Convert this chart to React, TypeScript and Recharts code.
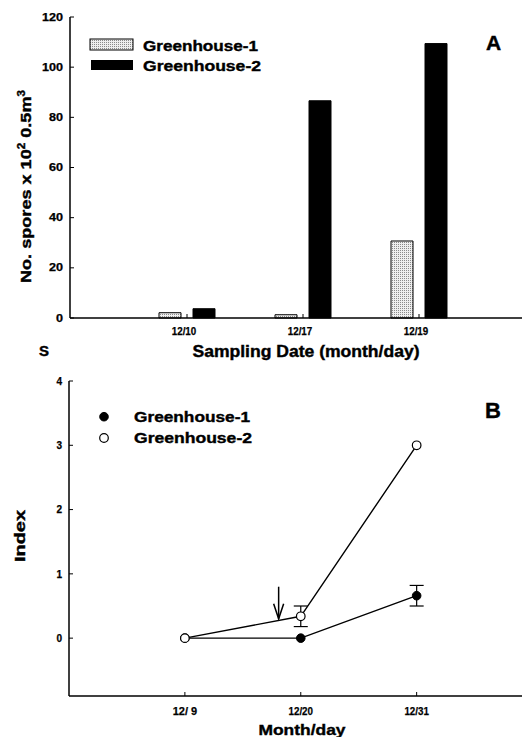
import React from 'react';
import { ComposedChart, Bar, XAxis, YAxis, Line, ErrorBar, ReferenceLine } from 'recharts';

const FONT = '"Liberation Sans", Arial, Helvetica, sans-serif';

// ---------- Panel A data ----------
const seriesNames = ['Greenhouse-1', 'Greenhouse-2'];
const sampleDates = ['12/10', '12/17', '12/19'];
const sporesGH1 = [2.1, 1.3, 30.7];
const sporesGH2 = [3.7, 86.6, 109.4];
const sporeTicks = [0, 20, 40, 60, 80, 100, 120];

// ---------- Panel B data ----------
const indexDays = [9, 20, 31];
const indexDayLabels = ['12/ 9', '12/20', '12/31'];
const indexGH1 = [0, 0, 0.66];
const indexGH1Err = [0, 0, 0.16];
const indexGH2 = [0, 0.34, 3.0];
const indexGH2Err = [0, 0.16, 0];
const indexTicks = [0, 1, 2, 3, 4];
const arrowDay = 17.9;
const arrowTop = 0.8;
const arrowTip = 0.3;

const barData = sampleDates.map((d, i) => ({ date: d, gh1: sporesGH1[i], gh2: sporesGH2[i] }));
const lineData = indexDays.map((d, i) => ({
  day: d,
  gh1: indexGH1[i],
  gh1e: indexGH1Err[i],
  gh2: indexGH2[i],
  gh2e: indexGH2Err[i],
}));

const dayLabel = (v: number) => {
  const i = indexDays.indexOf(v);
  return i >= 0 ? indexDayLabels[i] : String(v);
};

const makeTick =
  (opts: { fontSize: number; charW: number; anchor: 'end' | 'middle'; dx?: number; fmt?: (v: any) => string }) =>
  (props: any) => {
    const { x, y, payload } = props;
    const label = opts.fmt ? opts.fmt(payload.value) : String(payload.value);
    return (
      <text
        x={x + (opts.dx || 0)}
        y={y}
        textAnchor={opts.anchor}
        dy={opts.anchor === 'end' ? '0.36em' : '0.71em'}
        fontSize={opts.fontSize}
        fontWeight="bold"
        fontFamily={FONT}
        fill="#000"
        stroke="#000"
        strokeWidth={0.25}
        textLength={label.length * opts.charW}
        lengthAdjust="spacingAndGlyphs"
      >
        {label}
      </text>
    );
  };

const ArrowShape = (p: any) => {
  const { x1, y1, x2, y2 } = p;
  if ([x1, y1, x2, y2].some((v) => typeof v !== 'number' || isNaN(v))) return <g />;
  return (
    <g>
      <line x1={x1} y1={y1} x2={x2} y2={y2} stroke="#000" strokeWidth={1.5} />
      <path
        d={`M${x2 - 5},${y2 - 15} L${x2},${y2} L${x2 + 5},${y2 - 15}`}
        fill="none"
        stroke="#000"
        strokeWidth={1.5}
      />
    </g>
  );
};

const axisLine = { stroke: '#000', strokeWidth: 1.5 };
const tickLine = { stroke: '#000', strokeWidth: 1 };

const txt = (extra: any = {}) => ({
  fontFamily: FONT,
  fontWeight: 'bold' as const,
  fill: '#000',
  stroke: '#000',
  strokeWidth: 0.4,
  lengthAdjust: 'spacingAndGlyphs',
  ...extra,
});

export default function App() {
  return (
    <div style={{ position: 'absolute', left: 0, top: 0, width: 522, height: 737, background: '#fff', overflow: 'hidden' }}>
      {/* Panel A */}
      <div style={{ position: 'absolute', left: 0, top: 0 }}>
        <ComposedChart
          width={522}
          height={370}
          data={barData}
          margin={{ top: 17, right: 0, bottom: 0, left: 0 }}
          barSize={22}
          barGap={12}
        >
          <defs>
            <pattern id="stippleA" width="2" height="2" patternUnits="userSpaceOnUse">
              <rect width="2" height="2" fill="#eeeeee" />
              <rect width="1" height="1" fill="#8a8a8a" />
            </pattern>
          </defs>
          <XAxis
            dataKey="date"
            type="category"
            padding={{ left: 59, right: 45 }}
            height={52}
            axisLine={axisLine}
            tickLine={tickLine}
            tickSize={-4}
            tickMargin={13}
            tick={makeTick({ fontSize: 11.5, charW: 4.9, anchor: 'middle', dx: -3 })}
          />
          <XAxis xAxisId="top" orientation="top" dataKey="date" height={0} axisLine={axisLine} tick={false} tickLine={false} />
          <YAxis
            type="number"
            domain={[0, 120]}
            ticks={sporeTicks}
            width={70}
            axisLine={axisLine}
            tickLine={tickLine}
            tickSize={-4}
            tickMargin={11}
            interval={0}
            tick={makeTick({ fontSize: 10, charW: 7, anchor: 'end' })}
          />
          <Bar dataKey="gh1" name={seriesNames[0]} fill="url(#stippleA)" stroke="#000" strokeWidth={1} isAnimationActive={false} />
          <Bar dataKey="gh2" name={seriesNames[1]} fill="#000" stroke="#000" strokeWidth={1} isAnimationActive={false} />
        </ComposedChart>
      </div>

      {/* Panel B */}
      <div style={{ position: 'absolute', left: 0, top: 370 }}>
        <ComposedChart width={522} height={367} data={lineData} margin={{ top: 11, right: 0, bottom: 0, left: 0 }}>
          <XAxis
            dataKey="day"
            type="number"
            domain={[-2, 41]}
            ticks={indexDays}
            height={41}
            axisLine={axisLine}
            tickLine={tickLine}
            tickSize={-4}
            tickMargin={15}
            interval={0}
            tick={makeTick({ fontSize: 11.5, charW: 4.9, anchor: 'middle', fmt: dayLabel })}
          />
          <XAxis xAxisId="top" orientation="top" dataKey="day" type="number" domain={[-2, 41]} height={0} axisLine={axisLine} tick={false} tickLine={false} />
          <YAxis
            type="number"
            domain={[-0.9, 4]}
            ticks={indexTicks}
            width={69}
            axisLine={axisLine}
            tickLine={tickLine}
            tickSize={-4}
            tickMargin={11}
            interval={0}
            allowDataOverflow
            tick={makeTick({ fontSize: 10.5, charW: 5.6, anchor: 'end' })}
          />
          <ReferenceLine
            segment={[
              { x: arrowDay, y: arrowTop },
              { x: arrowDay, y: arrowTip },
            ]}
            shape={ArrowShape}
            ifOverflow="visible"
          />
          <Line
            dataKey="gh1"
            name={seriesNames[0]}
            type="linear"
            stroke="#000"
            strokeWidth={1.4}
            dot={{ r: 4.3, fill: '#000', stroke: '#000', strokeWidth: 1 }}
            isAnimationActive={false}
          >
            <ErrorBar dataKey="gh1e" width={7} stroke="#000" strokeWidth={1.2} direction="y" />
          </Line>
          <Line
            dataKey="gh2"
            name={seriesNames[1]}
            type="linear"
            stroke="#000"
            strokeWidth={1.4}
            dot={{ r: 4.3, fill: '#fff', stroke: '#000', strokeWidth: 1.2 }}
            isAnimationActive={false}
          >
            <ErrorBar dataKey="gh2e" width={7} stroke="#000" strokeWidth={1.2} direction="y" />
          </Line>
        </ComposedChart>
      </div>

      {/* Annotations: legends, titles, panel letters */}
      <svg width={522} height={737} style={{ position: 'absolute', left: 0, top: 0, pointerEvents: 'none' }}>
        <defs>
          <pattern id="stippleL" width="2" height="2" patternUnits="userSpaceOnUse">
            <rect width="2" height="2" fill="#eeeeee" />
            <rect width="1" height="1" fill="#8a8a8a" />
          </pattern>
        </defs>
        {/* Panel A legend */}
        <rect x={90} y={39} width={43} height={11} fill="url(#stippleL)" stroke="#000" strokeWidth={1} />
        <rect x={91} y={60} width={42} height={10} fill="#000" />
        <text x={143} y={51} fontSize={15} textLength={115} {...txt()}>{seriesNames[0]}</text>
        <text x={143} y={71} fontSize={15} textLength={118} {...txt()}>{seriesNames[1]}</text>
        <text x={486} y={50} fontSize={21} {...txt()}>A</text>
        <text x={39} y={356} fontSize={15} {...txt()}>S</text>
        <text x={306} y={357} fontSize={16} textAnchor="middle" textLength={227} {...txt()}>Sampling Date (month/day)</text>
        <text transform="translate(31,186.5) rotate(-90)" x={0} y={0} fontSize={15.5} textAnchor="middle" textLength={193} {...txt()}>
          No. spores x 10<tspan dy={-6} fontSize={10}>2</tspan>
          <tspan dy={6}> 0.5m</tspan>
          <tspan dy={-6} fontSize={10}>3</tspan>
        </text>

        {/* Panel B legend */}
        <circle cx={104} cy={416.7} r={4.3} fill="#000" stroke="#000" />
        <circle cx={104} cy={438} r={4.3} fill="#fff" stroke="#000" strokeWidth={1.2} />
        <text x={134} y={421.5} fontSize={15} textLength={116} {...txt()}>{seriesNames[0]}</text>
        <text x={134} y={443} fontSize={15} textLength={118} {...txt()}>{seriesNames[1]}</text>
        <text x={485} y={418} fontSize={22} {...txt()}>B</text>
        <text x={302} y={735} fontSize={15.5} textAnchor="middle" textLength={87} {...txt()}>Month/day</text>
        <text transform="translate(25,536) rotate(-90)" x={0} y={0} fontSize={15} textAnchor="middle" textLength={52} {...txt()}>Index</text>
      </svg>
    </div>
  );
}
